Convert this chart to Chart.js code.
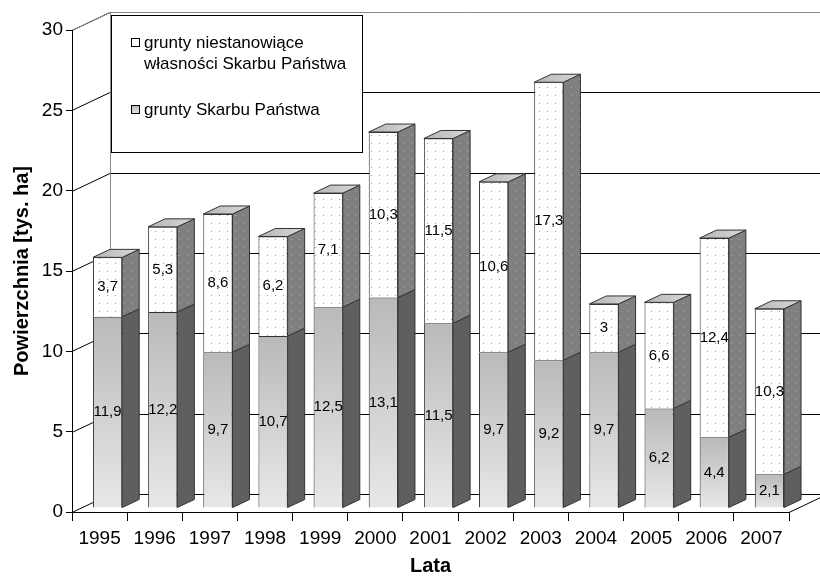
<!DOCTYPE html>
<html>
<head>
<meta charset="utf-8">
<script src="https://cdn.jsdelivr.net/npm/chart.js@4/dist/chart.umd.min.js"></script>
<style>
  html, body { margin: 0; padding: 0; background: #fff; }
</style>
</head>
<body>
<canvas id="lienzo" width="820" height="580"></canvas>
<script>
// dane
const lata = ['1995', '1996', '1997', '1998', '1999', '2000', '2001', '2002', '2003', '2004', '2005', '2006', '2007']
const gruntySkarbu = [11.9, 12.2, 9.7, 10.7, 12.5, 13.1, 11.5, 9.7, 9.2, 9.7, 6.2, 4.4, 2.1]
const gruntyInne = [3.7, 5.3, 8.6, 6.2, 7.1, 10.3, 11.5, 10.6, 17.3, 3, 6.6, 12.4, 10.3]
const etykietySkarbu = 'grunty Skarbu Państwa'
const etykietyInne = ['grunty niestanowiące', 'własności Skarbu Państwa']

const czcionka = "'Liberation Sans', Arial, sans-serif"

// glebokosc scian i slupkow (px)
const scianaX = 38, scianaY = 18
const przodX = 8, przodY = 4
const bokX = 17, bokY = 8

function wzorKropki(tlo, kropka) {
    const c = document.createElement('canvas')
    c.width = 8; c.height = 8
    const g = c.getContext('2d')
    g.fillStyle = tlo
    g.fillRect(0, 0, 8, 8)
    g.fillStyle = kropka
    g.fillRect(3, 3, 1, 1)
    return g.createPattern(c, 'repeat')
}

const ctx0 = document.getElementById('lienzo').getContext('2d')
const wzorPrzod = wzorKropki('#ffffff', '#9a9a9a')
const wzorBok = wzorKropki('#808080', '#a8a8a8')

const liczba = v => String(v).replace('.', ',')

const trojwymiar = {
    id: 'trojwymiar',
    beforeDraw(chart) {
        const { ctx, chartArea: a, scales: { y } } = chart
        ctx.save()
        ctx.lineWidth = 1
        const y0 = Math.round(y.getPixelForValue(0)) + 0.5
        const yTop = Math.round(y.getPixelForValue(30)) + 0.5
        // siatka na tylnej scianie i skosy na lewej
        y.ticks.forEach(t => {
            const py = Math.round(y.getPixelForValue(t.value)) + 0.5
            ctx.strokeStyle = '#000'
            ctx.beginPath()
            ctx.moveTo(a.left, py)
            ctx.lineTo(a.left + scianaX, py - scianaY)
            ctx.stroke()
            ctx.strokeStyle = t.value === 30 ? '#8a8a8a' : '#000'
            ctx.beginPath()
            ctx.moveTo(a.left + scianaX, py - scianaY)
            ctx.lineTo(a.right + scianaX, py - scianaY)
            ctx.stroke()
        })
        ctx.strokeStyle = '#8a8a8a'
        ctx.beginPath()
        ctx.moveTo(a.left, yTop)
        ctx.lineTo(a.left + scianaX, yTop - scianaY)
        ctx.moveTo(a.left + scianaX + 0.5, yTop - scianaY)
        ctx.lineTo(a.left + scianaX + 0.5, y0 - scianaY)
        ctx.stroke()
        // podloga
        ctx.strokeStyle = '#000'
        ctx.beginPath()
        ctx.moveTo(a.right, y0)
        ctx.lineTo(a.right + scianaX, y0 - scianaY)
        ctx.stroke()
        ctx.restore()
    },
    beforeDatasetsDraw(chart) {
        chart.ctx.save()
        chart.ctx.translate(przodX, -przodY)
    },
    afterDatasetsDraw(chart) {
        const ctx = chart.ctx
        // boki i wierzch
        chart.data.datasets.forEach((ds, i) => {
            const meta = chart.getDatasetMeta(i)
            meta.data.forEach(el => {
                const xl = el.x - el.width / 2, xr = el.x + el.width / 2
                const yt = el.y, yb = el.base
                ctx.strokeStyle = '#333'
                ctx.lineWidth = 1
                ctx.fillStyle = i === 0 ? '#5f5f5f' : wzorBok
                ctx.beginPath()
                ctx.moveTo(xr, yt)
                ctx.lineTo(xr + bokX, yt - bokY)
                ctx.lineTo(xr + bokX, yb - bokY)
                ctx.lineTo(xr, yb)
                ctx.closePath()
                ctx.fill()
                ctx.stroke()
                if (i === 1) {
                    const g = ctx.createLinearGradient(xl, yt, xr + bokX, yt - bokY)
                    g.addColorStop(0, '#b4b4b4')
                    g.addColorStop(1, '#dadada')
                    ctx.fillStyle = g
                    ctx.beginPath()
                    ctx.moveTo(xl, yt)
                    ctx.lineTo(xr, yt)
                    ctx.lineTo(xr + bokX, yt - bokY)
                    ctx.lineTo(xl + bokX, yt - bokY)
                    ctx.closePath()
                    ctx.fill()
                    ctx.stroke()
                }
            })
        })
        // etykiety danych
        ctx.fillStyle = '#000'
        ctx.font = '15px ' + czcionka
        ctx.textAlign = 'center'
        ctx.textBaseline = 'middle'
        chart.data.datasets.forEach((ds, i) => {
            const meta = chart.getDatasetMeta(i)
            meta.data.forEach((el, j) => {
                ctx.fillText(liczba(ds.data[j]), el.x, (el.y + el.base) / 2)
            })
        })
        ctx.restore()
    },
    afterDraw(chart) {
        const ctx = chart.ctx
        ctx.save()
        ctx.fillStyle = '#fff'
        ctx.strokeStyle = '#000'
        ctx.lineWidth = 1
        ctx.fillRect(111, 15, 252, 138)
        ctx.strokeRect(111.5, 15.5, 251, 137)
        // kwadraty legendy
        ctx.fillStyle = wzorPrzod
        ctx.fillRect(131, 38, 9, 9)
        ctx.strokeRect(131.5, 38.5, 8, 8)
        const g = ctx.createLinearGradient(0, 105, 0, 114)
        g.addColorStop(0, '#b9b9b9')
        g.addColorStop(1, '#e8e8e8')
        ctx.fillStyle = g
        ctx.fillRect(131, 105, 9, 9)
        ctx.strokeRect(131.5, 105.5, 8, 8)
        ctx.fillStyle = '#000'
        ctx.font = '17px ' + czcionka
        ctx.textBaseline = 'middle'
        ctx.textAlign = 'left'
        const inne = chart.data.datasets[1].label
        ctx.fillText(inne[0], 144, 43)
        ctx.fillText(inne[1], 144, 64)
        ctx.fillText(chart.data.datasets[0].label, 144, 110)
        ctx.restore()
    }
}

new Chart(document.getElementById('lienzo'), {
    type: 'bar',
    data: {
        labels: lata,
        datasets: [{
            label: etykietySkarbu,
            data: gruntySkarbu,
            backgroundColor: c => {
                const ch = c.chart
                if (!ch.chartArea) return '#ccc'
                const y = ch.scales.y
                const g = ch.ctx.createLinearGradient(0, y.getPixelForValue(c.raw), 0, y.getPixelForValue(0))
                g.addColorStop(0, '#b9b9b9')
                g.addColorStop(1, '#e8e8e8')
                return g
            },
            borderColor: '#333',
            borderWidth: 1,
            clip: false
        }, {
            label: etykietyInne,
            data: gruntyInne,
            backgroundColor: wzorPrzod,
            borderColor: '#333',
            borderWidth: 1,
            clip: false
        }]
    },
    options: {
        responsive: false,
        animation: false,
        devicePixelRatio: 1,
        layout: { padding: { top: 30, right: 31, left: 0, bottom: 0 } },
        datasets: { bar: { categoryPercentage: 1, barPercentage: 0.53 } },
        plugins: {
            legend: { display: false },
            tooltip: { enabled: false }
        },
        scales: {
            x: {
                stacked: true,
                afterFit: s => { s.height = 68 },
                grid: { drawOnChartArea: false, tickLength: 9, color: '#000' },
                border: { color: '#000' },
                ticks: { color: '#000', font: { family: czcionka, size: 19 }, padding: 6, maxRotation: 0 },
                title: { display: true, text: 'Lata', color: '#000', font: { family: czcionka, size: 20, weight: 'bold' }, padding: { top: 0, bottom: 2 } }
            },
            y: {
                stacked: true,
                min: 0,
                max: 30,
                afterFit: s => { s.width = 72 },
                grid: { drawOnChartArea: false, tickLength: 6, color: '#000' },
                border: { color: '#000' },
                ticks: { stepSize: 5, color: '#000', font: { family: czcionka, size: 19 }, padding: 3 },
                title: { display: true, text: 'Powierzchnia [tys. ha]', color: '#000', font: { family: czcionka, size: 20, weight: 'bold' }, padding: { top: 10, bottom: 0 } }
            }
        }
    },
    plugins: [trojwymiar]
})
</script>
</body>
</html>
